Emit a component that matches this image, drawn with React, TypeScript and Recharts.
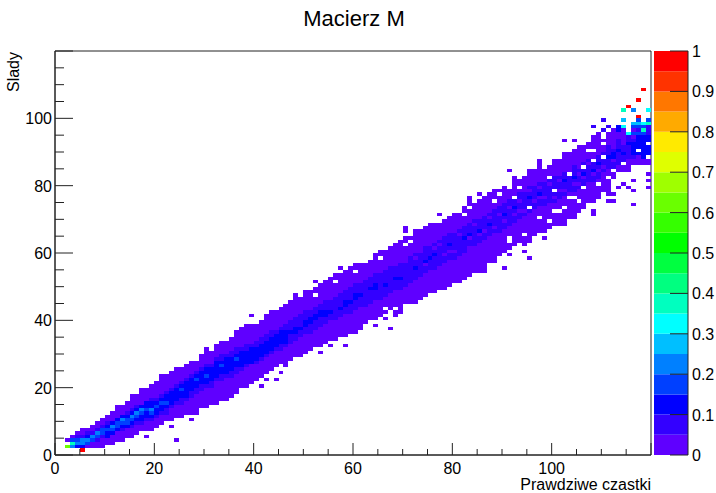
import { Bar, BarChart, ReferenceArea, Scatter, ScatterChart, XAxis, YAxis } from "recharts";

const PALETTE = [
  "#5f00ff", "#3300ff", "#0000ff", "#0040ff", "#0080ff", "#00bfff", "#00ffff", "#00ffbf", "#00ff80", "#00ff40",
  "#00ff00", "#35ff00", "#6aff00", "#9fff00", "#dfff00", "#ffea00", "#ffaa00", "#ff7700", "#ff3300", "#ff0000"
];
const FONT = "'Liberation Sans', Arial, sans-serif";

// one entry per x bin: outer purple band [low, high)
const outerLow = [
  0, 0, 2, 2, 2, 2, 2, 2, 2, 2, 3, 3, 4, 4, 5, 5, 6, 7, 7, 8,
  9, 9, 10, 10, 11, 11, 12, 12, 13, 14, 14, 15, 15, 16, 16, 17, 18, 20, 20, 21,
  22, 23, 24, 25, 26, 27, 27, 28, 29, 29, 30, 31, 32, 32, 33, 34, 34, 35, 35, 36,
  36, 37, 39, 40, 40, 41, 42, 43, 41, 42, 45, 45, 45, 46, 47, 48, 48, 49, 49, 50,
  51, 51, 52, 53, 54, 54, 54, 57, 58, 60, 60, 61, 62, 63, 62, 63, 65, 66, 66, 67,
  68, 68, 68, 70, 70, 72, 73, 75, 75, 76, 78, 77, 82, 84, 84, 84, 86, 85, 86, 86
];
const outerHigh = [
  0, 0, 0, 6, 7, 8, 8, 9, 10, 11, 12, 13, 15, 15, 16, 18, 18, 20, 20, 21,
  22, 24, 24, 25, 26, 26, 27, 28, 28, 30, 31, 31, 33, 34, 34, 35, 37, 38, 39, 39,
  39, 40, 41, 42, 43, 44, 45, 46, 47, 47, 48, 49, 50, 51, 52, 53, 54, 54, 55, 56,
  56, 57, 57, 58, 60, 60, 61, 62, 63, 64, 65, 65, 66, 67, 67, 68, 69, 69, 70, 71,
  72, 72, 74, 77, 75, 76, 77, 78, 78, 79, 80, 79, 82, 82, 83, 85, 85, 87, 85, 86,
  88, 88, 90, 90, 91, 92, 92, 93, 95, 96, 94, 96, 97, 98, 97, 96, 99, 99, 98, 97
];
// darker violet band
const midLow = [
  0, 0, 0, 3, 3, 3, 3, 4, 4, 5, 5, 6, 7, 7, 8, 8, 9, 9, 10, 10,
  11, 12, 12, 14, 15, 15, 16, 17, 18, 19, 20, 20, 22, 22, 23, 23, 24, 25, 26, 27,
  27, 28, 29, 30, 31, 31, 32, 33, 34, 35, 36, 36, 37, 38, 39, 40, 40, 41, 42, 42,
  43, 44, 44, 45, 46, 46, 47, 48, 49, 49, 50, 51, 52, 53, 54, 55, 55, 56, 57, 58,
  58, 59, 60, 62, 62, 63, 64, 65, 66, 66, 67, 68, 69, 70, 71, 72, 73, 74, 74, 75,
  75, 76, 77, 78, 78, 79, 80, 81, 81, 82, 84, 85, 85, 86, 86, 88, 88, 89, 90, 91
];
const midHigh = [
  0, 0, 0, 5, 6, 6, 7, 7, 8, 9, 10, 10, 11, 12, 13, 14, 15, 15, 16, 17,
  17, 18, 19, 20, 21, 22, 23, 24, 25, 26, 27, 27, 29, 30, 30, 31, 32, 32, 33, 33,
  34, 35, 36, 37, 37, 38, 39, 40, 41, 42, 43, 43, 44, 45, 46, 46, 47, 48, 49, 50,
  51, 51, 52, 53, 54, 54, 55, 56, 56, 57, 57, 59, 60, 60, 62, 62, 63, 64, 65, 66,
  66, 67, 68, 69, 70, 70, 71, 72, 73, 74, 75, 76, 77, 78, 78, 80, 80, 81, 81, 82,
  83, 83, 84, 85, 86, 85, 87, 88, 88, 89, 90, 92, 91, 94, 92, 96, 94, 98, 98, 98
];
// pure blue ridge, broken up past x = 55 where the picture turns patchy
const coreLow = [
  0, 0, 0, 0, 3, 3, 4, 4, 5, 6, 5, 6, 7, 8, 8, 9, 10, 10, 11, 11,
  12, 13, 14, 15, 16, 17, 17, 19, 20, 21, 21, 22, 23, 24, 24, 25, 26, 26, 27, 27,
  28, 29, 30, 31, 32, 33, 33, 36, 36, 37, 38, 39, 40, 41, 41, 42, 0, 43, 44, 45,
  46, 47, 0, 49, 49, 0, 50, 0, 52, 52, 0, 0, 55, 0, 57, 58, 59, 0, 0, 62,
  0, 0, 64, 65, 0, 66, 0, 68, 0, 71, 71, 0, 73, 0, 0, 76, 0, 77, 0, 0,
  78, 0, 81, 0, 82, 0, 83, 0, 84, 86, 0, 88, 88, 90, 89, 92, 89, 89, 88, 88
];
const coreHigh = [
  0, 0, 0, 0, 5, 5, 6, 6, 7, 8, 9, 10, 11, 12, 12, 13, 14, 15, 16, 16,
  16, 17, 18, 19, 20, 21, 22, 23, 24, 25, 26, 26, 28, 28, 29, 29, 30, 31, 31, 32,
  32, 33, 34, 35, 36, 37, 37, 37, 38, 38, 40, 41, 42, 43, 43, 43, 0, 44, 46, 46,
  48, 48, 0, 50, 51, 0, 51, 0, 53, 53, 0, 0, 56, 0, 58, 59, 60, 0, 0, 63,
  0, 0, 65, 66, 0, 67, 0, 69, 0, 72, 72, 0, 74, 0, 0, 77, 0, 78, 0, 0,
  79, 0, 82, 0, 83, 0, 84, 0, 85, 87, 0, 89, 90, 91, 90, 93, 93, 95, 96, 95
];
// single bins that stand apart: [x bin, y bin, palette level]
const specialCells: [number, number, number][] = [
  [2, 2, 12], [2, 4, 0], [3, 2, 4], [3, 3, 7], [3, 4, 3], [4, 2, 2], [4, 3, 4], [4, 4, 3], [5, 1, 19], [5, 2, 2], [5, 3, 4],
  [5, 4, 4], [6, 3, 3], [6, 4, 4], [7, 4, 3], [7, 5, 4], [8, 5, 3], [8, 6, 4], [9, 6, 3], [9, 7, 3], [10, 7, 3], [11, 8, 4], [11, 7, 3],
  [12, 8, 3], [12, 9, 3], [13, 10, 4], [13, 9, 3], [14, 10, 3], [14, 9, 3], [15, 11, 4], [15, 10, 3], [16, 12, 4], [16, 11, 3], [17, 13, 4], [17, 12, 3], [18, 13, 3], [19, 13, 4], [19, 12, 3],
  [20, 14, 3], [21, 15, 3], [22, 15, 3], [25, 19, 3], [28, 22, 3], [30, 23, 3], [33, 26, 3], [36, 28, 3],
  [18, 5, 0], [24, 4, 0], [20, 8, 0], [23, 8, 0], [19, 7, 0], [27, 10, 0], [28, 12, 0], [30, 31, 0], [34, 19, 0], [36, 19, 0],
  [39, 41, 0], [42, 41, 0], [43, 42, 0], [48, 47, 0], [50, 48, 0], [52, 51, 0], [57, 55, 0], [65, 60, 0], [60, 56, 0], [62, 56, 0],
  [70, 67, 0], [70, 66, 0], [72, 66, 0], [74, 67, 0], [75, 68, 0], [67, 37, 0], [66, 40, 0], [64, 38, 0], [58, 32, 0], [55, 32, 0],
  [53, 30, 0], [49, 29, 0], [48, 29, 0], [46, 26, 0], [45, 24, 0], [44, 22, 0], [42, 22, 0], [41, 20, 0],
  [77, 71, 0], [91, 84, 0], [85, 77, 0], [88, 78, 0], [97, 87, 0], [92, 82, 0], [98, 64, 0], [96, 65, 0], [94, 62, 0], [94, 60, 0],
  [95, 58, 0], [91, 59, 0], [89, 59, 0], [88, 57, 0], [85, 57, 0], [90, 55, 0],
  [118, 108, 19], [117, 105, 19], [115, 103, 19], [114, 102, 7], [116, 102, 4], [119, 102, 6], [117, 100, 19], [114, 99, 5],
  [117, 99, 3], [119, 99, 3], [116, 98, 5], [117, 98, 5], [118, 98, 6], [119, 98, 7], [114, 97, 6], [113, 97, 2], [116, 97, 3], [117, 97, 3],
  [118, 97, 3], [118, 96, 7], [115, 95, 6], [116, 95, 3], [117, 95, 3], [118, 95, 3], [110, 96, 1], [113, 96, 2], [108, 97, 1], [110, 99, 1], [111, 97, 1],
  [102, 93, 0], [104, 93, 0], [119, 83, 0], [119, 81, 0], [119, 79, 0], [116, 81, 0], [116, 78, 0], [113, 79, 0], [115, 79, 0],
  [114, 80, 0], [112, 77, 0], [111, 75, 0], [112, 75, 0], [116, 74, 0], [108, 72, 0], [108, 71, 0],
  [72, 58, 0], [74, 56, 0], [76, 61, 0], [78, 59, 0], [80, 60, 0], [81, 65, 0], [83, 64, 0], [84, 68, 0], [86, 66, 0], [87, 70, 0],
  [88, 67, 0], [90, 69, 0], [91, 73, 0], [92, 71, 0], [93, 75, 0], [94, 72, 0], [95, 78, 0], [96, 75, 0], [97, 79, 0], [98, 76, 0],
  [99, 80, 0], [100, 76, 0], [101, 81, 0], [102, 78, 0], [103, 84, 0], [104, 80, 0], [105, 83, 0], [106, 82, 0], [107, 86, 0], [108, 83, 0],
  [109, 84, 0], [110, 85, 0], [112, 87, 0], [85, 65, 0], [89, 71, 0], [93, 72, 0], [97, 76, 0], [101, 78, 0], [105, 80, 0], [77, 62, 0], [79, 60, 0]
];
// white gaps inside the band: [x bin, y bin]
const holeCells: [number, number][] = [
  [52, 47], [56, 51], [60, 54], [65, 58], [70, 62], [71, 63], [68, 43], [66, 43], [83, 73], [89, 77], [88, 75], [92, 76],
  [93, 79], [90, 81], [99, 82], [96, 85], [100, 72], [101, 72], [99, 69], [82, 71], [91, 64], [91, 63], [94, 65],
  [107, 90], [108, 90], [103, 83], [106, 85], [110, 88], [112, 84], [105, 75], [109, 80], [111, 82], [100, 78], [95, 73],
  [97, 70], [104, 76], [102, 73], [108, 87], [106, 79], [103, 76], [110, 92], [117, 90], [119, 88], [119, 92], [114, 86],
  [116, 85], [117, 85], [118, 85]
];

const xTicks = [0, 5, 10, 15, 20, 25, 30, 35, 40, 45, 50, 55, 60, 65, 70, 75, 80, 85, 90, 95, 100, 105, 110, 115, 120];
const yTicks = xTicks;
const scaleTicks = [0, 0.1, 0.2, 0.3, 0.4, 0.5, 0.6, 0.7, 0.8, 0.9, 1];
const scaleStep = 0.05;

const PLOT = { left: 55, top: 51, width: 596, height: 404 };
const BINS = 120;
const cellW = PLOT.width / BINS;
const cellH = PLOT.height / BINS;

function buildCells() {
  const grid = new Map<string, number>();
  const fill = (x: number, lo: number, hi: number, level: number) => {
    for (let y = lo; y < hi; y++) grid.set(`${x}:${y}`, level);
  };
  for (let x = 0; x < BINS; x++) {
    fill(x, outerLow[x], outerHigh[x], 0);
    fill(x, midLow[x], midHigh[x], 1);
    fill(x, coreLow[x], coreHigh[x], 2);
  }
  holeCells.forEach(([x, y]) => grid.delete(`${x}:${y}`));
  specialCells.forEach(([x, y, level]) => grid.set(`${x}:${y}`, level));
  const byLevel: { x: number; y: number }[][] = PALETTE.map(() => []);
  grid.forEach((level, key) => {
    const [x, y] = key.split(":").map(Number);
    byLevel[level].push({ x: x + 0.5, y: y + 0.5 });
  });
  return byLevel;
}

const cellsByLevel = buildCells();
const scaleRow = Object.fromEntries(PALETTE.map((_, i) => [`l${i}`, scaleStep]));

function BinCell(props: any) {
  return (
    <rect
      x={props.cx - cellW / 2}
      y={props.cy - cellH / 2}
      width={cellW}
      height={cellH}
      fill={props.fill}
      shapeRendering="crispEdges"
    />
  );
}

function XTick({ x, y, payload }: any) {
  const major = payload.value % 20 === 0;
  return (
    <g>
      <line x1={x} x2={x} y1={y} y2={y - (major ? 12 : 6)} stroke="#222" />
      {major && payload.value < 120 && (
        <text x={x} y={y + 19} textAnchor="middle" fontFamily={FONT} fontSize={16} fill="#000">
          {payload.value}
        </text>
      )}
    </g>
  );
}

function YTick({ x, y, payload }: any) {
  const major = payload.value % 20 === 0;
  return (
    <g>
      <line x1={x} x2={x + (major ? 18 : 9)} y1={y} y2={y} stroke="#222" />
      {major && payload.value < 120 && (
        <text x={x - 3} y={y + 6} textAnchor="end" fontFamily={FONT} fontSize={16} fill="#000">
          {payload.value}
        </text>
      )}
    </g>
  );
}

function ScaleTick({ x, y, payload }: any) {
  return (
    <g>
      <line x1={x - 18} x2={x} y1={y} y2={y} stroke="#222" />
      <text x={x + 4} y={y + 6} fontFamily={FONT} fontSize={16} fill="#000">
        {payload.value}
      </text>
    </g>
  );
}

export default function App() {
  return (
    <div style={{ position: "absolute", left: 0, top: 0, width: 716, height: 493, background: "#fff" }}>
      <div style={{ position: "absolute", left: 0, top: 0 }}>
        <ScatterChart
          width={716}
          height={493}
          margin={{ top: PLOT.top, right: 716 - PLOT.left - PLOT.width, bottom: 0, left: 0 }}
        >
          <XAxis
            type="number"
            dataKey="x"
            domain={[0, 120]}
            ticks={xTicks}
            interval={0}
            height={493 - PLOT.top - PLOT.height}
            tickSize={0}
            tickMargin={0}
            tick={XTick}
            stroke="#222"
          />
          <YAxis
            type="number"
            dataKey="y"
            domain={[0, 120]}
            ticks={yTicks}
            interval={0}
            width={PLOT.left}
            tickSize={0}
            tickMargin={0}
            tick={YTick}
            stroke="#222"
          />
          {PALETTE.map((color, level) => (
            <Scatter
              key={color}
              data={cellsByLevel[level]}
              fill={color}
              shape={BinCell}
              isAnimationActive={false}
            />
          ))}
          <ReferenceArea x1={0} x2={120} y1={0} y2={120} fill="none" stroke="#222" strokeOpacity={1} />
          <text x={354} y={26} textAnchor="middle" fontFamily={FONT} fontSize={22} fill="#000">
            Macierz M
          </text>
          <text x={651} y={490} textAnchor="end" fontFamily={FONT} fontSize={16} fill="#000">
            Prawdziwe czastki
          </text>
          <text
            x={19}
            y={92}
            transform="rotate(-90 19 92)"
            fontFamily={FONT}
            fontSize={16}
            fill="#000"
          >
            Slady
          </text>
        </ScatterChart>
      </div>
      <div style={{ position: "absolute", left: 654, top: 0 }}>
        <BarChart
          width={62}
          height={493}
          data={[scaleRow]}
          barCategoryGap={0}
          margin={{ top: PLOT.top, right: 0, bottom: 493 - PLOT.top - PLOT.height, left: 0 }}
        >
          <XAxis hide />
          <YAxis
            orientation="right"
            type="number"
            domain={[0, 1]}
            ticks={scaleTicks}
            interval={0}
            width={28}
            tickSize={0}
            tickMargin={0}
            tick={ScaleTick}
            stroke="#222"
          />
          {PALETTE.map((color, i) => (
            <Bar key={color} dataKey={`l${i}`} stackId="scale" fill={color} isAnimationActive={false} />
          ))}
        </BarChart>
      </div>
    </div>
  );
}
